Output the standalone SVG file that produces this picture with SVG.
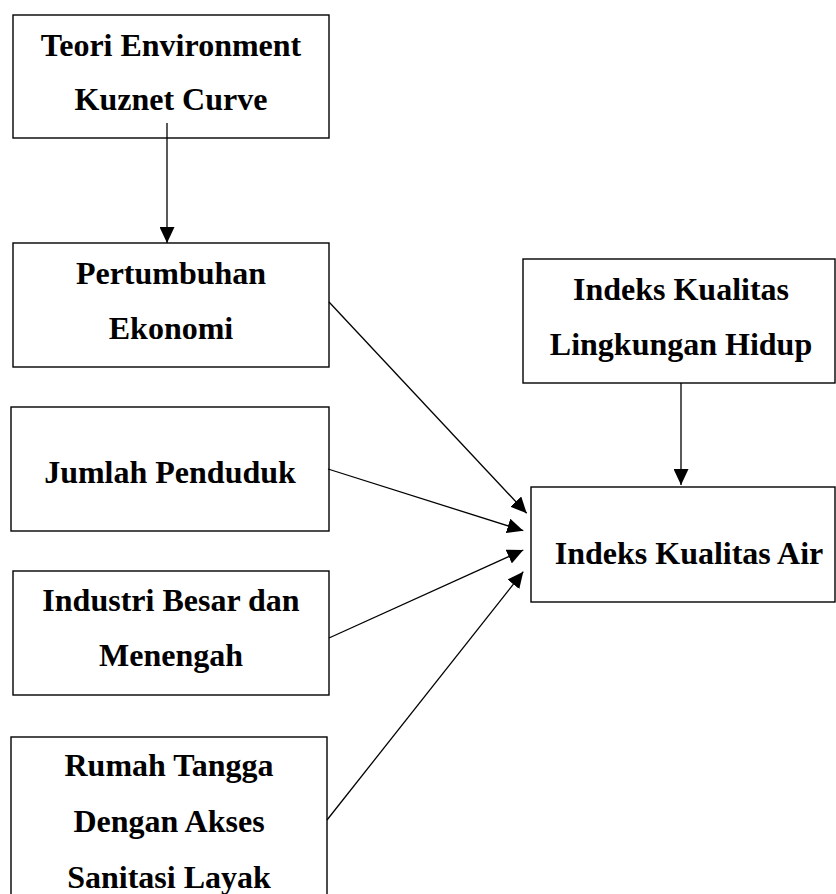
<svg xmlns="http://www.w3.org/2000/svg" width="836" height="894" viewBox="0 0 836 894">
<style>
  .box { fill: #ffffff; stroke: #000000; stroke-width: 1.4; }
  .lbl { font-family: "Liberation Serif", "Times New Roman", serif; font-weight: bold; font-size: 32px; fill: #000000; text-anchor: middle; }
  .edge { stroke: #000000; stroke-width: 1.3; fill: none; marker-end: url(#arrow); }
</style>
<defs>
  <marker id="arrow" markerUnits="userSpaceOnUse" markerWidth="16" markerHeight="15" refX="16" refY="7.5" orient="auto">
    <path d="M0,0 L16,7.5 L0,15 Z" fill="#000000"/>
  </marker>
</defs>
<rect width="836" height="894" fill="#ffffff"/>
<g id="teori">
  <rect class="box" x="13" y="15" width="316" height="123"/>
  <text class="lbl" x="171" y="56">Teori Environment</text>
  <text class="lbl" x="171" y="110">Kuznet Curve</text>
</g>
<g id="pertumbuhan">
  <rect class="box" x="13" y="243" width="316" height="124"/>
  <text class="lbl" x="171" y="284">Pertumbuhan</text>
  <text class="lbl" x="171" y="339">Ekonomi</text>
</g>
<g id="jumlah">
  <rect class="box" x="11" y="407" width="318" height="124"/>
  <text class="lbl" x="170" y="483">Jumlah Penduduk</text>
</g>
<g id="industri">
  <rect class="box" x="13" y="571" width="316" height="124"/>
  <text class="lbl" x="171" y="611">Industri Besar dan</text>
  <text class="lbl" x="171" y="666">Menengah</text>
</g>
<g id="rumah">
  <rect class="box" x="11" y="737" width="316" height="170"/>
  <text class="lbl" x="169" y="776">Rumah Tangga</text>
  <text class="lbl" x="169" y="832">Dengan Akses</text>
  <text class="lbl" x="169" y="888">Sanitasi Layak</text>
</g>
<g id="iklh">
  <rect class="box" x="523" y="259" width="312" height="124"/>
  <text class="lbl" x="681" y="300">Indeks Kualitas</text>
  <text class="lbl" x="681" y="355">Lingkungan Hidup</text>
</g>
<g id="ika">
  <rect class="box" x="531" y="487" width="304" height="115"/>
  <text class="lbl" x="689" y="564">Indeks Kualitas Air</text>
</g>
<g id="connectors">
  <line class="edge" x1="167" y1="123" x2="167" y2="243"/>
  <line class="edge" x1="681" y1="383" x2="681" y2="485"/>
  <line class="edge" x1="329" y1="302" x2="526.7" y2="513.3"/>
  <line class="edge" x1="328" y1="469" x2="523.3" y2="530.7"/>
  <line class="edge" x1="329" y1="638" x2="523.3" y2="550"/>
  <line class="edge" x1="327" y1="820" x2="523.3" y2="571.7"/>
</g>
</svg>
